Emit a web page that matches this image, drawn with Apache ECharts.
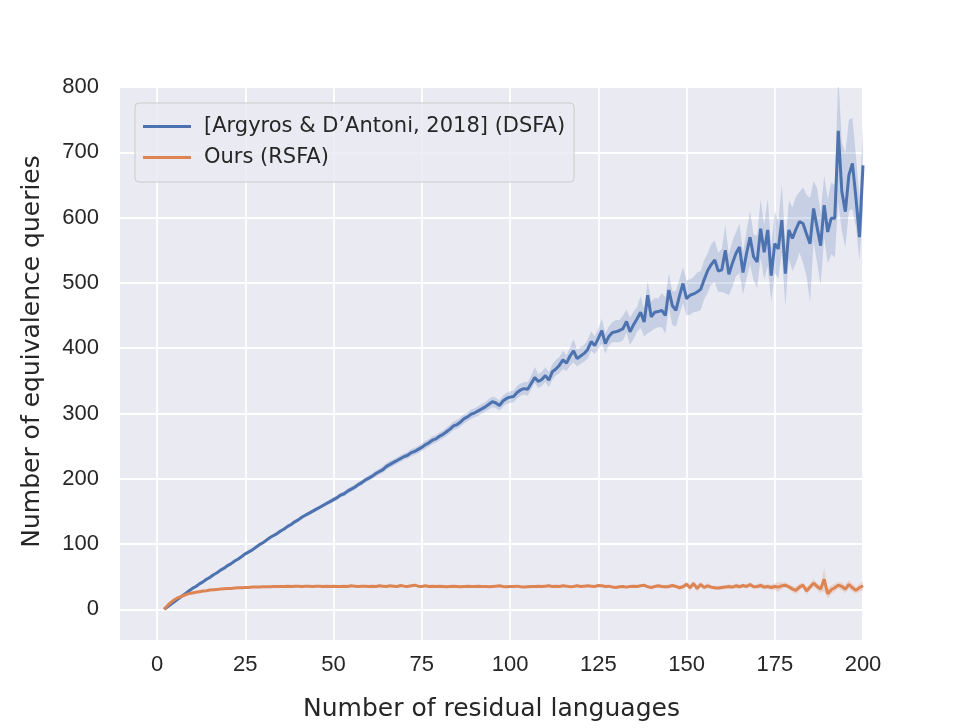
<!DOCTYPE html>
<html>
<head>
<meta charset="utf-8">
<script src="https://cdn.jsdelivr.net/npm/echarts@6/dist/echarts.min.js"></script>
<style>html,body{margin:0;padding:0;background:#fff;}#c{width:961px;height:728px;}</style>
</head>
<body>
<div id="c"></div>
<script>
// x values: number of residual languages, 2..200
const xFirst = 2, xLast = 200;
const xTicks = [0, 25, 50, 75, 100, 125, 150, 175, 200];
const yTicks = [0, 100, 200, 300, 400, 500, 600, 700, 800];
const seriesNames = ['[Argyros & D\u2019Antoni, 2018] (DSFA)', 'Ours (RSFA)'];

// DSFA mean (x = 2..200)
const dsfaMean = [
  0, 4, 8, 12, 16, 20, 24, 28,
  32, 35, 39, 42, 46, 49, 53, 56, 60, 63,
  67, 70, 74, 77, 81, 85, 88, 91, 95, 99,
  102, 106, 110, 113, 116, 120, 123, 127, 130, 134,
  137, 141, 144, 147, 150, 153, 156, 159, 162, 165,
  168, 171, 175, 177, 181, 184, 187, 191, 194, 198,
  201, 204, 208, 211, 214, 219, 222, 225, 228, 231,
  234, 236, 240, 242, 245, 248, 252, 255, 259, 261,
  265, 268, 272, 276, 281, 283, 287, 292, 295, 299,
  301, 304, 307, 310, 314, 318, 316, 312, 319, 323,
  325, 326, 332, 336, 338, 337, 346, 355, 349, 352,
  358, 351, 364, 368, 374, 382, 377, 388, 396, 384,
  388, 392, 398, 410, 404, 415, 427, 407, 418, 424,
  425, 427, 430, 441, 425, 436, 445, 455, 440, 481,
  448, 455, 456, 458, 450, 489, 465, 458, 480, 499,
  476, 481, 483, 486, 490, 505, 519, 528, 535, 518,
  520, 550, 513, 530, 545, 555, 516, 545, 570, 540,
  532, 583, 547, 581, 511, 560, 552, 596, 514, 581,
  568, 582, 594, 591, 575, 560, 614, 585, 557, 619,
  578, 599, 599, 733, 640, 609, 665, 683, 630, 570,
  680
];
// DSFA confidence band: distance below / above the mean
const dsfaBelow = [
  0, 0.5, 0.5, 1, 1, 1, 1, 1,
  1, 1, 1, 1, 1, 1.5, 1.5, 1.5, 1.5, 1.5,
  1.5, 1.5, 2, 2, 2, 2, 2, 2, 2, 2,
  2, 2, 2, 2.5, 2.5, 2.5, 2.5, 2.5, 2.5, 3,
  3, 3, 3, 3, 3, 3, 3, 3, 3.5, 3.5,
  3.5, 3.5, 3.5, 4, 4, 4, 4, 4, 4, 4,
  4, 4.5, 4.5, 4.5, 5, 5, 5, 5, 5, 5,
  5, 5, 5.5, 5.5, 5.5, 6, 6, 6, 6, 6,
  6, 6, 6.5, 6.5, 6.5, 7, 7, 7, 7, 7,
  7, 7.5, 7.5, 7.5, 8, 8, 8, 8, 8.5, 8.5,
  9, 9, 9, 9, 9, 10, 9, 8, 10, 10,
  10, 11, 12, 10, 12, 14, 12, 15, 18, 12,
  12, 13, 14, 14, 13, 16, 20, 15, 14, 15,
  16, 18, 18, 17, 20, 22, 20, 24, 22, 58,
  22, 25, 24, 26, 28, 27, 30, 25, 28, 30,
  26, 30, 28, 30, 32, 30, 34, 30, 35, 32,
  34, 66, 32, 36, 35, 40, 34, 38, 42, 36,
  40, 45, 42, 55, 40, 45, 45, 50, 50, 45,
  50, 52, 48, 60, 65, 90, 50, 55, 60, 50,
  48, 55, 60, 110, 60, 55, 55, 70, 45, 35,
  70
];
const dsfaAbove = [
  0, 0.5, 0.5, 1, 1, 1, 1, 1,
  1, 1, 1, 1, 1, 1.5, 1.5, 1.5, 1.5, 1.5,
  1.5, 1.5, 2, 2, 2, 2, 2, 2, 2, 2,
  2, 2, 2, 2.5, 2.5, 2.5, 2.5, 2.5, 2.5, 3,
  3, 3, 3, 3, 3, 3, 3, 3, 3.5, 3.5,
  3.5, 3.5, 3.5, 4, 4, 4, 4, 4, 4, 4,
  4, 4.5, 4.5, 4.5, 5, 5, 5, 5, 5, 5,
  5, 5, 5.5, 5.5, 5.5, 6, 6, 6, 6, 6,
  6, 6, 6.5, 6.5, 6.5, 7, 7, 7, 7, 7,
  7, 7.5, 7.5, 7.5, 8, 8, 8, 8, 8.5, 8.5,
  9, 9, 10, 10, 10, 11, 12, 16, 11, 12,
  13, 12, 12, 14, 13, 14, 12, 13, 18, 14,
  14, 13, 15, 16, 14, 15, 18, 16, 15, 16,
  18, 16, 20, 18, 22, 20, 18, 25, 20, 22,
  24, 22, 20, 26, 28, 25, 22, 30, 26, 25,
  28, 24, 26, 30, 28, 30, 26, 32, 30, 28,
  32, 38, 30, 34, 32, 36, 30, 35, 40, 34,
  40, 45, 42, 48, 45, 50, 42, 55, 46, 45,
  48, 50, 45, 55, 60, 70, 42, 60, 50, 45,
  50, 55, 50, 85, 75, 90, 85, 70, 65, 60,
  60
];
// RSFA mean (x = 2..200)
const rsfaMean = [
  0, 6, 11, 15, 18, 20, 22, 24,
  25, 26, 27, 28, 28.5, 29.5, 30, 30.5, 31, 31.5,
  32, 32, 32.5, 33, 33, 33.5, 33.5, 34, 34, 34,
  34.5, 34.5, 34.5, 35, 35, 35, 35, 35.5, 35, 35.5,
  35.5, 35, 35.5, 35.5, 35, 35.5, 35.5, 35, 35.5, 35,
  35.5, 35, 35, 35.5, 35, 36, 35.5, 35, 35.5, 35.5,
  35, 35.5, 35, 36, 35.5, 35, 36, 35.5, 35, 36.5,
  35.5, 35, 36, 37, 35.5, 35, 36, 35, 35.5, 35,
  35.5, 35, 34.5, 35, 35.5, 35, 34.5, 35, 35.5, 35,
  35, 35.5, 35, 35, 34.5, 35, 35.5, 36, 35, 34.5,
  35, 35, 35.5, 34.5, 34, 34.5, 35, 35, 35.5, 35,
  35.5, 36, 35, 35.5, 35, 36, 35.5, 34.5, 35, 36,
  35, 35.5, 36, 35.5, 35, 36.5, 36, 35, 35.5, 34,
  33.5, 34.5, 35, 34, 35, 35.5, 35, 36, 37, 34.5,
  33.5, 35, 36, 35, 34.5, 35, 36.5, 35, 33, 34.5,
  38.5, 33, 39.5, 32, 38, 33.5, 36, 34, 33, 32.5,
  33.5, 34, 35, 34, 36, 34.5, 36.5, 35, 38, 34.5,
  35, 36.5, 34, 35, 33.5, 35, 34, 36, 37, 34.5,
  31, 29, 34, 37, 28, 34, 40, 35, 31, 46,
  24, 30, 33, 37, 35, 31, 38, 33, 29, 33,
  36
];
// RSFA confidence band half-width
const rsfaSpread = [
  0, 0.5, 0.5, 0.5, 0.5, 0.5, 0.5, 0.5,
  0.8, 0.8, 0.8, 0.8, 0.8, 0.8, 0.8, 0.8, 0.8, 0.8,
  0.8, 0.8, 0.8, 0.8, 0.8, 0.8, 0.8, 0.8, 0.8, 0.8,
  0.8, 0.8, 0.8, 0.8, 0.8, 0.8, 0.8, 0.8, 0.8, 0.8,
  1, 1, 1, 1, 1, 1, 1, 1, 1, 1,
  1, 1, 1, 1, 1, 1, 1, 1, 1, 1,
  1, 1, 1, 1, 1, 1, 1, 1, 1, 1,
  1, 1, 1, 1, 1, 1, 1, 1, 1, 1,
  1, 1, 1, 1, 1, 1, 1, 1, 1, 1,
  1, 1, 1, 1, 1, 1, 1, 1, 1, 1,
  1.5, 1.5, 1.5, 1.5, 1.5, 1.5, 1.5, 1.5, 1.5, 1.5,
  1.5, 1.5, 1.5, 1.5, 1.5, 1.5, 1.5, 1.5, 1.5, 1.5,
  1.5, 1.5, 1.5, 1.5, 1.5, 1.5, 1.5, 1.5, 1.5, 1.5,
  1.5, 1.5, 1.5, 1.5, 1.5, 1.5, 1.5, 1.5, 1.5, 1.5,
  2, 2, 2.5, 2.5, 3, 3, 3, 2.5, 3, 3,
  4, 5, 4, 5, 4, 3.5, 4, 3, 3, 3,
  3, 3, 3.5, 3, 4, 3.5, 3, 3, 4, 3,
  3.5, 4, 4, 3.5, 4, 5, 8, 5, 4, 4,
  5, 6, 5, 4, 6, 5, 6, 5, 6, 18,
  8, 7, 6, 5, 6, 6, 7, 6, 5, 6,
  7
];

const xs = [];
for (let x = xFirst; x <= xLast; x++) xs.push(x);

function pairs(vals) { return xs.map((x, i) => [x, vals[i]]); }

const blue = '#4c72b0', orange = '#dd8452';

function bandSeries(mean, below, above, color) {
  const lower = mean.map((m, i) => m - below[i]);
  const upper = mean.map((m, i) => m + above[i]);
  return {
    type: 'custom', silent: true, clip: true, z: 1,
    data: [0],
    renderItem: function (params, api) {
      const pts = [];
      for (let i = 0; i < xs.length; i++) pts.push(api.coord([xs[i], upper[i]]));
      for (let i = xs.length - 1; i >= 0; i--) pts.push(api.coord([xs[i], lower[i]]));
      const cs = params.coordSys;
      return {
        type: 'polygon', shape: { points: pts },
        style: { fill: color, opacity: 0.22 },
        clipPath: { type: 'rect', shape: { x: cs.x, y: cs.y, width: cs.width, height: cs.height } }
      };
    }
  };
}

const chart = echarts.init(document.getElementById('c'), null, { renderer: 'canvas' });
const tickFont = { fontFamily: "'Liberation Sans', Arial, sans-serif", fontSize: 22, color: '#262626' };
const titleFont = { fontFamily: "'DejaVu Sans', sans-serif", fontSize: 25, color: '#262626' };
const legendFont = "'DejaVu Sans', sans-serif";

chart.setOption({
  animation: false,
  backgroundColor: '#ffffff',
  grid: { left: 120, right: 98, top: 87, bottom: 88, show: true, backgroundColor: '#eaeaf2', borderWidth: 0 },
  legend: {
    data: seriesNames, orient: 'vertical', left: 135, top: 103,
    icon: 'rect', itemWidth: 48, itemHeight: 3, itemGap: 10,
    padding: [13, 9, 14, 8],
    backgroundColor: 'rgba(234,234,242,0.85)', borderColor: '#cccccc', borderWidth: 1, borderRadius: 4,
    formatter: function (name) { return '{g| }{t|' + name + '}'; },
    textStyle: {
      fontFamily: legendFont, fontSize: 21, color: '#262626',
      rich: {
        g: { width: 8, fontSize: 21 },
        t: { fontFamily: legendFont, fontSize: 21, color: '#262626' }
      }
    }
  },
  xAxis: {
    type: 'value', min: -10.5, max: 200,
    axisLine: { show: false },
    axisTick: { show: false, customValues: xTicks },
    axisLabel: Object.assign({ customValues: xTicks, margin: 14 }, tickFont),
    splitLine: { show: true, lineStyle: { color: '#ffffff', width: 1.8 } },
    name: 'Number of residual languages', nameLocation: 'middle', nameGap: 57, nameTextStyle: titleFont
  },
  yAxis: {
    type: 'value', min: -47, max: 800,
    axisLine: { show: false },
    axisTick: { show: false, customValues: yTicks },
    axisLabel: Object.assign({ customValues: yTicks, margin: 21 }, tickFont),
    splitLine: { show: true, lineStyle: { color: '#ffffff', width: 1.8 } },
    name: 'Number of equivalence queries', nameLocation: 'middle', nameGap: 75,
    nameTextStyle: Object.assign({ padding: [0, 0, 0, 24] }, titleFont)
  },
  series: [
    bandSeries(dsfaMean, dsfaBelow, dsfaAbove, blue),
    { type: 'line', name: seriesNames[0], data: pairs(dsfaMean), symbol: 'none', color: blue,
      lineStyle: { color: blue, width: 3 }, z: 3 },
    bandSeries(rsfaMean, rsfaSpread, rsfaSpread, orange),
    { type: 'line', name: seriesNames[1], data: pairs(rsfaMean), symbol: 'none', color: orange,
      lineStyle: { color: orange, width: 3 }, z: 3 }
  ]
});
</script>
</body>
</html>
